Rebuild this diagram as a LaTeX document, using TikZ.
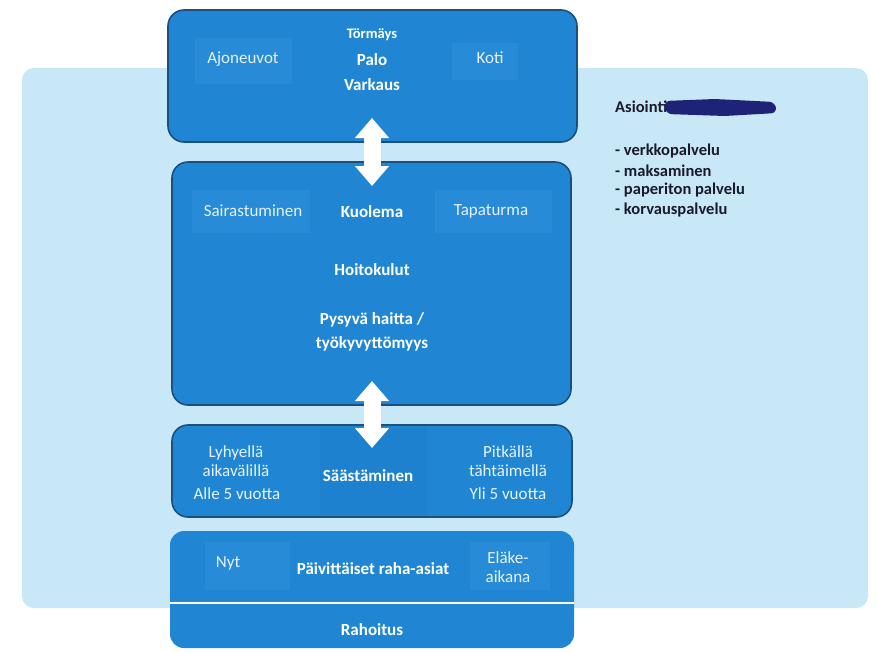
\documentclass[tikz,border=0pt]{standalone}
\usepackage{fontspec}
\setmainfont{Carlito}
\usetikzlibrary{arrows.meta}
\definecolor{bgblue}{HTML}{C8E8F8}
\definecolor{boxblue}{HTML}{2086D4}
\definecolor{boxedge}{HTML}{1A4F7E}
\definecolor{panel}{HTML}{288BD8}
\definecolor{panelDark}{HTML}{1D81CF}
\definecolor{sidetext}{HTML}{E6F2FC}
\definecolor{ink}{HTML}{1A1A2A}
\definecolor{scribble}{HTML}{1E2378}
\begin{document}
\begin{tikzpicture}[x=1pt,y=-1pt,
  box/.style={draw=boxedge, line width=1.6pt, fill=boxblue, rounded corners=16pt, inner sep=0pt},
  flatbox/.style={fill=boxblue, rounded corners=14pt, inner sep=0pt},
  mainlbl/.style={text=white, font=\bfseries\fontsize{17}{24}\selectfont, align=center, inner sep=0pt},
  smalllbl/.style={text=white, font=\bfseries\fontsize{14.5}{17}\selectfont, align=center, inner sep=0pt},
  sidelbl/.style={text=sidetext, font=\fontsize{17}{19}\selectfont, align=center, inner sep=0pt},
  listlbl/.style={text=ink, font=\bfseries\fontsize{16.5}{19}\selectfont, anchor=west, inner sep=0pt},
  dblarrow/.style={draw=white, line width=17pt, {Triangle[width=33pt,length=20pt]}-{Triangle[width=33pt,length=20pt]}},
]
\useasboundingbox (0,0) rectangle (877,651);
% background
\fill[bgblue, rounded corners=12pt] (22,68) rectangle (868,608);

% boxes
\node[box, minimum width=409pt, minimum height=132pt] (top) at (372.5,76) {};
\node[box, minimum width=399pt, minimum height=243pt] (mid) at (371.5,283.5) {};
\node[box, minimum width=400pt, minimum height=92pt] (save) at (372,471) {};
\node[flatbox, minimum width=404pt, minimum height=117pt] (base) at (372,589.5) {};

% subtle panels
\fill[panel] (195,38) rectangle (292,84);
\fill[panel] (452,43) rectangle (518,80);
\fill[panel] (192,190) rectangle (310,233);
\fill[panel] (435,190) rectangle (552,233);
\fill[panelDark] (320,428) rectangle (427,515);
\fill[panel] (205,542) rectangle (290,590);
\fill[panel] (470,542) rectangle (550,590);

% divider in bottom box
\coordinate (divL) at (170,603);
\coordinate (divR) at (574,603);
\draw[white, line width=2.5pt] (divL) -- (divR);

% top box labels
\node[smalllbl] (tormays) at (372,35) {Törmäys};
\node[mainlbl] (palo) at (372,60) {Palo};
\node[mainlbl] (varkaus) at (372,85) {Varkaus};
\node[sidelbl] (ajon) at (243,59) {Ajoneuvot};
\node[sidelbl] (koti) at (490,58) {Koti};

% middle box labels
\node[sidelbl] (sair) at (253,211) {Sairastuminen};
\node[mainlbl] (kuol) at (372,212) {Kuolema};
\node[sidelbl] (tapa) at (491,211) {Tapaturma};
\node[mainlbl] (hoito) at (372,270) {Hoitokulut};
\node[mainlbl] (pysyva) at (372,332) {Pysyvä haitta /\\työkyvyttömyys};

% savings labels
\node[sidelbl] (lyh) at (236,461) {Lyhyellä\\aikavälillä};
\node[sidelbl] (alle) at (237,494) {Alle 5 vuotta};
\node[mainlbl] (saast) at (368,476) {Säästäminen};
\node[sidelbl] (pitk) at (508,461) {Pitkällä\\tähtäimellä};
\node[sidelbl] (yli) at (508,494) {Yli 5 vuotta};

% bottom labels
\node[sidelbl] (nyt) at (228,563) {Nyt};
\node[mainlbl] (paiv) at (373,569) {Päivittäiset raha-asiat};
\node[sidelbl] (elake) at (508,567) {Eläke-\\aikana};
\node[mainlbl] (rahoitus) at (372,630) {Rahoitus};

% double arrows
\coordinate (a1top) at (372,118);
\coordinate (a1bot) at (372,186);
\coordinate (a2top) at (372,381);
\coordinate (a2bot) at (372,448);
\draw[dblarrow] (a1top) -- (a1bot);
\draw[dblarrow] (a2top) -- (a2bot);

% right-hand text
\node[listlbl] (asiointi) at (615,107) {Asiointi};
\fill[scribble, rounded corners=6pt] (664,101) -- (715,99) -- (775,102) -- (777,113) -- (725,116) -- (666,114) -- cycle;
\node[listlbl] (l1) at (615,151.5) {- verkkopalvelu};
\node[listlbl] (l2) at (615,171) {- maksaminen};
\node[listlbl] (l3) at (615,190.5) {- paperiton palvelu};
\node[listlbl] (l4) at (615,210) {- korvauspalvelu};
\end{tikzpicture}
\end{document}
